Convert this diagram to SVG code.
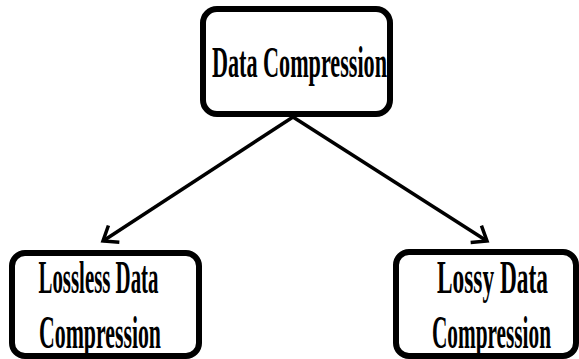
<svg xmlns="http://www.w3.org/2000/svg" width="579" height="359" viewBox="0 0 579 359">
  <style>
    .box { fill: #ffffff; stroke: #000000; stroke-width: 6; }
    .lbl { font-family: "Liberation Serif", "Times New Roman", serif; font-weight: bold; fill: #000000; text-anchor: middle; }
    .conn { stroke: #000000; stroke-width: 3.5; fill: none; }
  </style>
  <defs>
    <marker id="arrow" markerUnits="userSpaceOnUse" markerWidth="30" markerHeight="30" refX="15" refY="15" orient="auto" viewBox="0 0 30 30">
      <path d="M2,5 L15,15 L2,25" fill="none" stroke="#000000" stroke-width="3.5" stroke-linejoin="miter"/>
    </marker>
  </defs>
  <rect width="579" height="359" fill="#ffffff"/>
  <g id="connectors">
    <line class="conn" x1="293" y1="117" x2="103" y2="241" marker-end="url(#arrow)"/>
    <line class="conn" x1="293" y1="117" x2="487" y2="241" marker-end="url(#arrow)"/>
  </g>
  <g id="node-data-compression">
    <rect class="box" x="203" y="9" width="187" height="105" rx="14"/>
    <text class="lbl" x="299.5" y="77" font-size="44" textLength="175" lengthAdjust="spacingAndGlyphs">Data Compression</text>
  </g>
  <g id="node-lossless">
    <rect class="box" x="12" y="253" width="187" height="103" rx="13"/>
    <text class="lbl" x="98.5" y="293" font-size="46" textLength="120" lengthAdjust="spacingAndGlyphs">Lossless Data</text>
    <text class="lbl" x="100" y="348" font-size="46" textLength="122" lengthAdjust="spacingAndGlyphs">Compression</text>
  </g>
  <g id="node-lossy">
    <rect class="box" x="396" y="252" width="180" height="104" rx="13"/>
    <text class="lbl" x="492.5" y="293" font-size="46" textLength="111" lengthAdjust="spacingAndGlyphs">Lossy Data</text>
    <text class="lbl" x="491.5" y="348" font-size="46" textLength="119" lengthAdjust="spacingAndGlyphs">Compression</text>
  </g>
</svg>
